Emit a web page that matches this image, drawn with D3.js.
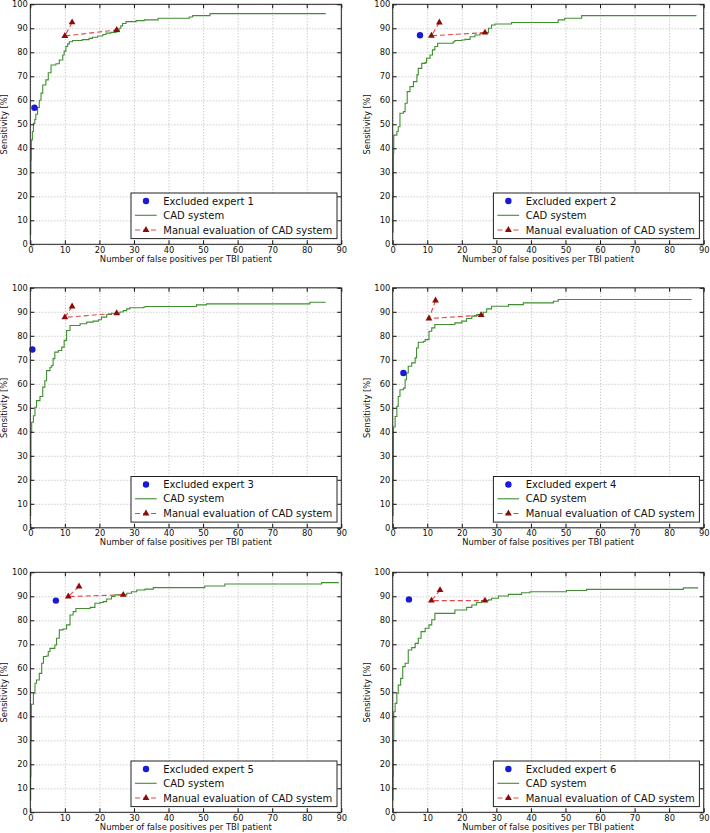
<!DOCTYPE html>
<html>
<head>
<meta charset="utf-8">
<script src="https://cdn.jsdelivr.net/npm/d3@7"></script>
<style>
  body { margin: 0; background: #fff; }
  svg { display: block; font-family: "DejaVu Sans", sans-serif; }
</style>
</head>
<body>
<svg id="chart" width="710" height="833"></svg>
<script>
// axis ticks
const xTicks = [0, 10, 20, 30, 40, 50, 60, 70, 80, 90];
const yTicks = [0, 10, 20, 30, 40, 50, 60, 70, 80, 90, 100];

// legend labels
const expertLabels = ["Excluded expert 1", "Excluded expert 2", "Excluded expert 3",
  "Excluded expert 4", "Excluded expert 5", "Excluded expert 6"];
const cadLabel = "CAD system";
const manualLabel = "Manual evaluation of CAD system";

// FROC curves of the CAD system, [false positives, sensitivity], plateau starts
const cad1 = [[0,4],[0.1,20],[0.2,35],[0.3,43.5],[0.6,47],[0.9,50.4],[1.3,52],[1.6,54.2],[2.1,57],[2.6,60],[3.1,63],[3.6,66.4],[4.5,68.5],[5.2,71.5],[6,74.7],[7.4,75.2],[8.4,76.8],[9.4,78.9],[9.8,80.5],[10.3,82.4],[10.8,83.5],[11.3,84.4],[12.2,84.9],[15,85.3],[17,85.8],[18,86.3],[19.5,86.8],[21,87.4],[21.9,88],[23.3,88.3],[24.8,88.6],[25.7,90],[26.2,91],[26.7,92],[27.7,92.8],[30.6,93.2],[33,93.5],[37,94.2],[46,94.7],[47,95.3],[52,96.1],[85.5,96.1]];
const cad2 = [[0,5],[0.1,20],[0.2,38],[0.3,45.5],[1.2,47],[1.6,49],[2.1,54.6],[3.1,55.3],[3.6,58.8],[4.2,63.6],[5,65.7],[6,67.8],[7,70.6],[7.4,73.3],[8.4,75.4],[9.4,75.7],[9.8,77.5],[10.8,78.9],[11.5,81],[12.2,82.4],[13,83.8],[17.5,84.4],[18,84.9],[20,85.1],[20.9,85.4],[22.4,86.5],[23.8,87.2],[25.3,87.9],[26.7,88.2],[27.7,90],[28.6,91.4],[29.6,91.8],[34.4,92.4],[47.9,93.5],[49.8,94.2],[54.7,95.3],[87.9,95.3]];
const cad3 = [[0,5],[0.1,20],[0.2,40],[0.4,44],[0.9,46.7],[1.35,50.2],[1.8,53],[2.8,54.7],[3.6,58.6],[4.2,61.3],[4.7,65.5],[5.7,66.9],[6.2,67.6],[6.6,70.5],[7.1,73.2],[8.1,73.9],[9.1,75.3],[9.8,78.1],[10.5,82.2],[11.5,84.3],[14.4,85],[16.3,85.7],[18.2,86.1],[19.7,86.7],[20.6,87.8],[22.1,88.9],[23.5,89.4],[25.9,89.9],[26.9,90.5],[27.9,91.2],[28.8,91.7],[32.7,91.9],[33.2,92.2],[48.1,92.9],[51,93.3],[80.9,94],[85.5,94]];
const cad4 = [[0,5],[0.1,20],[0.2,42],[0.7,46.4],[1.2,50.6],[1.6,54.7],[2.1,57.5],[3.1,58.2],[3.6,61.7],[4,64.5],[4.5,67.3],[5.5,68.7],[6.5,70.8],[6.9,74.9],[7.4,77.3],[8.9,77.6],[9.4,78.4],[10.5,81.9],[11.3,83.3],[12.2,84.7],[18,85.4],[20,86.1],[21.4,87.2],[22.9,88.2],[24.3,88.9],[26.2,89.8],[27.2,91.2],[28.6,92.3],[33.5,93],[37.8,93.7],[46.5,94.4],[47.9,95.1],[86.5,95.1]];
const cad5 = [[0,5],[0.1,15],[0.2,30],[0.3,45],[0.9,49.6],[1.35,53.8],[1.8,55.1],[2.6,57.9],[3.3,62.1],[3.8,64.9],[4.7,65.1],[5.2,67],[5.7,68.3],[7.1,69.7],[7.6,72.5],[8.4,76],[9.5,76.4],[10.5,78.1],[11.5,82.2],[12.4,83.6],[13.2,84.9],[17.3,85.4],[18.7,87.1],[20.2,87.4],[21.1,87.8],[22.1,88.9],[23.5,89.9],[24.5,90.6],[27.9,91.3],[29.3,91.9],[30.8,92.6],[33.2,93],[35.6,93.6],[50.5,94.3],[56.3,95.1],[84.3,95.7],[89.3,95.7]];
const cad6 = [[0,5],[0.1,15],[0.2,30],[0.3,41.9],[0.7,45.4],[1.2,49.6],[1.6,53],[2.3,55.8],[2.9,60.7],[3.6,62.1],[4.5,67.6],[5.5,68.6],[6.5,70.4],[7.4,72.5],[8.2,75.3],[9.4,76.7],[10.5,78.1],[11.3,80.2],[12.2,82.9],[18,84.3],[21.4,85.4],[22.9,86.4],[24.3,87.4],[25.7,88.2],[27.7,88.5],[28.6,89.2],[30.6,90.1],[33.5,90.8],[37.3,91.5],[39.7,91.9],[50.3,92.4],[56.1,92.9],[84.1,93.5],[88.4,93.5]];

// excluded expert operating points
const experts = [[1.2,56.9],[7.9,87.1],[0.6,74.3],[3.1,64.5],[7.4,88.2],[4.7,88.7]];

// manual evaluation of CAD system
const manual1 = [[12.1,92.5],[10,86.8],[25,89.3]];
const manual2 = [[13.5,92.4],[11.2,86.9],[26.7,88.2]];
const manual3 = [[12.1,92.2],[10,87.7],[25,89.4]];
const manual4 = [[12.4,94.7],[10.5,87.2],[25.6,88.6]];
const manual5 = [[14.1,94.1],[11,89.9],[26.9,90.6]];
const manual6 = [[13.7,92.6],[11.2,88.2],[26.7,88.2]];

const cads = [cad1, cad2, cad3, cad4, cad5, cad6];
const manuals = [manual1, manual2, manual3, manual4, manual5, manual6];

const svg = d3.select('#chart');
const plotW = 311, plotH = 240;
const origins = [[30.3, 4.3], [392.7, 4.3], [30.3, 287.8], [392.7, 287.8], [30.3, 572.3], [392.7, 572.3]];

const x = d3.scaleLinear().domain([0, 90]).range([0, plotW]);
const y = d3.scaleLinear().domain([0, 100]).range([plotH, 0]);

const tri = d3.symbol().type(d3.symbolTriangle).size(20);

let drawPanel = (i) => {
  const g = svg.append('g').attr('transform', `translate(${origins[i][0]},${origins[i][1]})`);

  // dotted grid
  g.append('g').attr('class', 'grid')
    .attr('transform', `translate(0,${plotH})`)
    .call(d3.axisBottom(x).tickValues(xTicks).tickSize(-plotH).tickFormat(''));
  g.append('g').attr('class', 'grid')
    .call(d3.axisLeft(y).tickValues(yTicks).tickSize(-plotW).tickFormat(''));
  g.selectAll('.grid .domain').remove();
  g.selectAll('.grid line')
    .style('stroke', '#888')
    .style('stroke-width', 0.6)
    .style('stroke-dasharray', '1,2');

  // CAD curve
  g.append('path')
    .datum(cads[i])
    .attr('d', d3.line().x(d => x(d[0])).y(d => y(d[1])).curve(d3.curveStepAfter))
    .style('fill', 'none')
    .style('stroke', '#3f8f30')
    .style('stroke-width', 1.1);

  // manual evaluation
  g.append('path')
    .datum(manuals[i])
    .attr('d', d3.line().x(d => x(d[0])).y(d => y(d[1])))
    .style('fill', 'none')
    .style('stroke', '#e04848')
    .style('stroke-width', 1.1)
    .style('stroke-dasharray', '5,3');
  g.selectAll('.tri')
    .data(manuals[i])
    .enter()
    .append('path')
    .attr('transform', d => `translate(${x(d[0])},${y(d[1])})`)
    .attr('d', tri)
    .style('fill', '#8b0a0a');

  // expert point
  g.append('circle')
    .attr('cx', x(experts[i][0]))
    .attr('cy', y(experts[i][1]))
    .attr('r', 3.2)
    .style('fill', '#1a1ad6');

  // axes with inward ticks on all four sides
  const bottom = g.append('g').attr('transform', `translate(0,${plotH})`)
    .call(d3.axisBottom(x).tickValues(xTicks).tickSizeInner(-4).tickSizeOuter(0).tickPadding(2.5));
  const left = g.append('g')
    .call(d3.axisLeft(y).tickValues(yTicks).tickSizeInner(-4).tickSizeOuter(0).tickPadding(2.5));
  g.append('g')
    .call(d3.axisTop(x).tickValues(xTicks).tickSizeInner(-4).tickSizeOuter(0).tickFormat(''));
  g.append('g').attr('transform', `translate(${plotW},0)`)
    .call(d3.axisRight(y).tickValues(yTicks).tickSizeInner(-4).tickSizeOuter(0).tickFormat(''));
  g.selectAll('.domain').remove();
  [bottom, left].forEach(a => a.selectAll('text')
    .style('font-family', '"DejaVu Sans", sans-serif')
    .style('font-size', '8.3px')
    .style('fill', '#111'));
  g.selectAll('.tick line').filter(function() { return !this.closest('.grid'); })
    .style('stroke', '#111');

  // frame
  g.append('rect')
    .attr('width', plotW)
    .attr('height', plotH)
    .style('fill', 'none')
    .style('stroke', '#222')
    .style('stroke-width', 1);

  // axis labels
  g.append('text')
    .attr('x', plotW / 2)
    .attr('y', plotH + 17.7)
    .attr('text-anchor', 'middle')
    .style('font-size', '8.4px')
    .style('fill', '#111')
    .text('Number of false positives per TBI patient');
  g.append('text')
    .attr('transform', `translate(-23,${plotH / 2}) rotate(-90)`)
    .attr('text-anchor', 'middle')
    .style('font-size', '8.3px')
    .style('fill', '#111')
    .text('Sensitivity [%]');

  // legend
  const lg = g.append('g').attr('transform', 'translate(100.7,188.7)');
  lg.append('rect')
    .attr('width', 206)
    .attr('height', 45.6)
    .style('fill', '#fff')
    .style('stroke', '#222')
    .style('stroke-width', 1);
  const rows = [8, 22.3, 37];
  lg.append('circle').attr('cx', 15).attr('cy', rows[0]).attr('r', 3.2).style('fill', '#1a1ad6');
  lg.append('line').attr('x1', 4).attr('x2', 25.7).attr('y1', rows[1]).attr('y2', rows[1])
    .style('stroke', '#3f8f30').style('stroke-width', 1.1);
  lg.append('line').attr('x1', 4).attr('x2', 25.7).attr('y1', rows[2]).attr('y2', rows[2])
    .style('stroke', '#e04848').style('stroke-width', 1.1).style('stroke-dasharray', '5,3');
  lg.append('path').attr('transform', `translate(15,${rows[2]})`).attr('d', tri).style('fill', '#8b0a0a');
  [expertLabels[i], cadLabel, manualLabel].forEach((t, k) => {
    lg.append('text')
      .attr('x', 32.3)
      .attr('y', rows[k])
      .attr('dy', '0.36em')
      .style('font-size', '10px')
      .style('fill', '#111')
      .text(t);
  });
};

d3.range(6).forEach(drawPanel);
</script>
</body>
</html>
